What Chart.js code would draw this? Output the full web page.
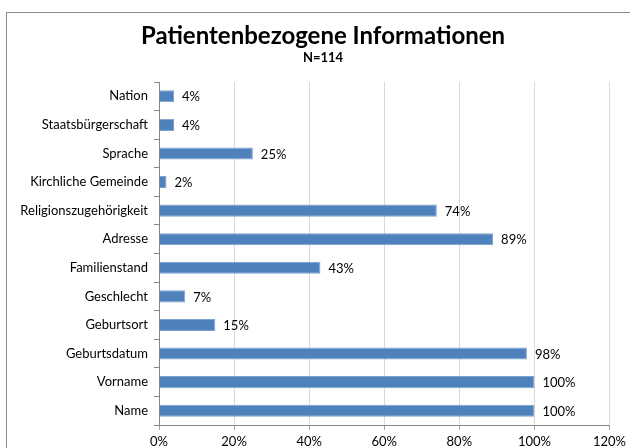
<!DOCTYPE html>
<html>
<head>
<meta charset="utf-8">
<script src="https://cdn.jsdelivr.net/npm/chart.js@4/dist/chart.umd.min.js"></script>
<style>
  html, body { margin: 0; padding: 0; background: #fff; }
  #wrap { width: 630px; height: 448px; }
</style>
</head>
<body>
<div id="wrap"><canvas id="myChart" width="630" height="448"></canvas></div>
<script>
var chartTitle = 'Patientenbezogene Informationen';
var chartSubtitle = 'N=114';
var categories = ['Nation', 'Staatsbürgerschaft', 'Sprache', 'Kirchliche Gemeinde',
  'Religionszugehörigkeit', 'Adresse', 'Familienstand', 'Geschlecht',
  'Geburtsort', 'Geburtsdatum', 'Vorname', 'Name'];
var percentValues = [4, 4, 25, 2, 74, 89, 43, 7, 15, 98, 100, 100];
var xTicks = [0, 20, 40, 60, 80, 100, 120];

// frame round the whole chart + the titles (centred a bit right, like the original)
var framePlugin = {
  id: 'frame',
  beforeDraw: function(chart) {
    var ctx = chart.ctx;
    ctx.save();
    ctx.fillStyle = '#fff';
    ctx.fillRect(0, 0, chart.width, chart.height);
    ctx.strokeStyle = '#8c8c8c';
    ctx.lineWidth = 1;
    ctx.strokeRect(6.5, 12.5, 700, 500);

    ctx.fillStyle = '#000';
    ctx.textAlign = 'center';
    ctx.textBaseline = 'middle';
    ctx.font = 'bold 24px Lato';
    ctx.fillText(chartTitle, 323, 36);
    ctx.font = 'bold 13px Lato';
    ctx.fillText(chartSubtitle, 323, 58);
    ctx.restore();
  }
};

// value labels at the end of each bar
var valueLabels = {
  id: 'valueLabels',
  afterDatasetsDraw: function(chart) {
    var ctx = chart.ctx;
    var meta = chart.getDatasetMeta(0);
    ctx.save();
    ctx.font = '13px Lato';
    ctx.fillStyle = '#000';
    ctx.textAlign = 'left';
    ctx.textBaseline = 'middle';
    for (var i = 0; i < meta.data.length; i++) {
      var bar = meta.data[i];
      ctx.fillText(percentValues[i] + '%', bar.x + 8, bar.y + 1);
    }
    ctx.restore();
  }
};

var ctx = document.getElementById('myChart').getContext('2d');
var chart = new Chart(ctx, {
  type: 'bar',
  data: {
    labels: categories,
    datasets: [{
      data: percentValues,
      backgroundColor: '#4f81bd',
      borderColor: '#7da2cf',
      borderWidth: 1,
      categoryPercentage: 0.42,
      barPercentage: 1
    }]
  },
  options: {
    indexAxis: 'y',
    responsive: false,
    animation: false,
    layout: { padding: { left: 0, right: 18, top: 82, bottom: 0 } },
    plugins: {
      legend: { display: false },
      tooltip: { enabled: false },
      title: { display: false }
    },
    scales: {
      x: {
        min: 0,
        max: 120,
        afterBuildTicks: function(scale) {
          scale.ticks = xTicks.map(function(v) { return { value: v }; });
        },
        afterFit: function(scale) { scale.height = 23; },
        ticks: {
          color: '#000',
          font: { family: 'Lato', size: 13 },
          padding: 4,
          maxRotation: 0,
          callback: function(v) { return v + '%'; }
        },
        grid: { color: '#d9d9d9', tickLength: 5, tickColor: '#a6a6a6' },
        border: { color: '#868686' }
      },
      y: {
        afterFit: function(scale) { scale.width = 159; },
        ticks: {
          color: '#000',
          font: { family: 'Lato', size: 13 },
          padding: 6
        },
        grid: { drawOnChartArea: false, offset: true, tickLength: 5, tickColor: '#868686' },
        border: { color: '#868686' }
      }
    }
  },
  plugins: [framePlugin, valueLabels]
});
</script>
</body>
</html>
